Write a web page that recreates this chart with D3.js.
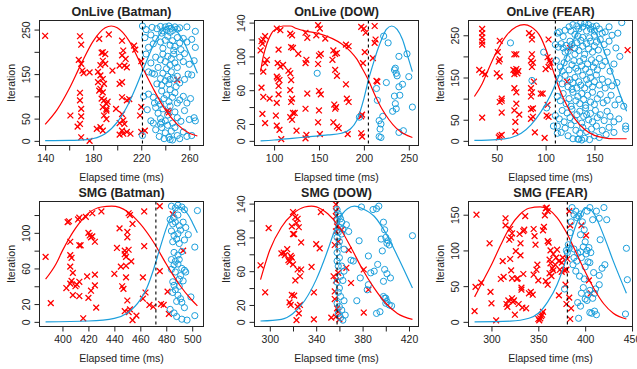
<!DOCTYPE html>
<html><head><meta charset="utf-8">
<script src="https://cdn.jsdelivr.net/npm/d3@7"></script>
<style>body{margin:0;background:#fff}svg{display:block}text{font-family:"Liberation Sans",Arial,Helvetica,sans-serif;fill:#222}</style>
</head><body>
<svg id="c" width="637" height="369"></svg>
<script>
// ---------------- DATA ----------------
const titles = ["OnLive (Batman)", "OnLive (DOW)", "OnLive (FEAR)", "SMG (Batman)", "SMG (DOW)", "SMG (FEAR)"];
const xLabel = "Elapsed time (ms)";
const yLabel = "Iteration";
const xLimits = [[135.3, 271.8], [78.2, 260.8], [21, 189], [382.3, 508.7], [286.8, 428.2], [275.5, 450.5]];
const yLimits = [[-10.4, 270.4], [-5.5, 142.5], [-11, 285], [-5.2, 135.2], [-5.5, 142.5], [-6.5, 168.5]];
const xTicks = [[140,160,180,200,220,240,260],[100,150,200,250],[50,100,150],[400,420,440,460,480,500],[300,320,340,360,380,400,420],[300,350,400,450]];
const xTickLabels = [["140","","180","","220","","260"],["100","150","200","250"],["50","100","150"],["400","420","440","460","480","500"],["300","","340","","380","","420"],["300","350","400","450"]];
const yTicks = [[0,50,100,150,200,250],[0,20,40,60,80,100,120,140],[0,50,100,150,200,250],[0,20,40,60,80,100,120],[0,20,40,60,80,100,120,140],[0,50,100,150]];
const yTickLabels = [["0","50","","150","","250"],["0","20","","60","","100","","140"],["0","50","","150","","250"],["0","20","","60","","100",""],["0","20","","60","","100","","140"],["0","50","100","150"]];
const thresholds = [221, 205, 110, 472, 358, 381];

// density curves
const redCurves = [
  [[140,37],[150,70],[160,117],[170,173],[180,224],[190,254],[195,258],[200,254],[210,224],[220,170],[230,117],[240,70],[250,37],[260,17],[266.7,11]],
  [[85,82],[88,100],[92,115],[97,127],[103,133],[110,136],[118,136],[125,133],[135,130],[150,127],[165,121],[175,115],[185,106],[192,97],[198,86],[205,72],[212,55],[220,38],[228,25],[236,15],[245,8],[254,4]],
  [[27,105],[35,135],[40,162],[50,212],[60,250],[70,270],[78,275],[85,270],[95,245],[100,218],[105,185],[110,150],[115,118],[120,92],[130,52],[140,27],[150,13],[160,7],[170,5],[183,5]],
  [[387,48],[395,65],[400,80],[410,105],[420,122],[430,129],[438,130],[450,124],[460,110],[470,90],[480,65],[490,42],[500,24],[504,18]],
  [[292,50],[300,85],[310,112],[320,128],[330,136],[336,137],[345,133],[350,128],[360,112],[370,88],[380,62],[390,40],[400,22],[410,10],[423,3]],
  [[282,35],[290,55],[300,80],[310,108],[320,133],[330,150],[340,159],[352,161],[360,158],[370,146],[380,125],[390,98],[400,70],[410,45],[420,25],[430,12],[444,4]]
];
const blueCurves = [
  [[140,0.5],[160,1],[175,3],[190,16],[200,42],[210,87],[215,117],[220,150],[225,183],[230,214],[235,238],[240,254],[244,259],[250,245],[255,225],[260,195],[266.7,152]],
  [[85,0],[100,1],[120,3],[140,5],[160,7],[175,9],[185,14],[192,24],[200,50],[205,72],[210,90],[215,107],[220,121],[225,132],[231,136],[237,132],[243,120],[248,103],[254,82]],
  [[27,1],[50,3],[65,8],[75,18],[85,38],[95,68],[105,108],[112,145],[120,190],[127,230],[133,260],[140,275],[147,268],[155,240],[162,200],[170,150],[177,105],[183,70]],
  [[387,0],[420,1],[440,4],[450,10],[460,25],[465,38],[470,58],[475,82],[480,105],[485,122],[489,129],[493,127],[497,120],[500,112],[504,100]],
  [[292,1],[310,3],[320,10],[330,25],[340,50],[350,85],[355,105],[360,122],[367,134],[373,137],[380,134],[390,125],[400,105],[410,78],[423,40]],
  [[282,0],[320,1],[340,5],[350,12],[360,28],[370,52],[380,90],[385,115],[390,135],[395,150],[400,160],[405,158],[410,150],[420,120],[430,85],[444,40]]
];

// scatter points: red crosses, blue circles
const onliveBatmanRed = [[140,236],[169,235],[170,216],[168,182],[170,173],[171,158],[172,152],[177,154],[169,108],[169,91],[170,72],[170,55],[169,38],[167,32],[161,57],[170,8],[177,0],[185,229],[193,239],[188,199],[190,195],[187,198],[188,180],[190,173],[186,170],[186,147],[188,139],[184,132],[189,128],[186,117],[185,113],[188,109],[189,91],[191,83],[188,76],[191,68],[189,57],[191,49],[186,31],[188,23],[196,158],[204,225],[205,203],[204,192],[207,184],[202,169],[208,165],[206,169],[204,132],[202,128],[199,72],[204,98],[210,94],[208,91],[205,46],[206,38],[204,23],[205,16],[208,20],[211,16],[214,214],[220,179],[220,76],[219,57],[220,20],[223,23],[202,14],[250,137],[242,68],[243,64],[191,72],[183,27],[187,95],[192,88],[204,60],[202,40],[215,205],[184,155]];
const onliveBatmanBlue = [[221,258],[224,250],[229,255],[233,252],[236,257],[238,247],[240,256],[241,250],[243,258],[245,253],[246,248],[248,256],[250,251],[252,254],[258,256],[265,246],[244,244],[237,242],[228,238],
  [223,232],[232,230],[236,222],[240,226],[242,235],[244,215],[246,225],[248,212],[250,232],[252,220],[255,230],[258,222],[262,228],[238,208],[247,203],[253,205],[230,218],[226,210],[265,210],
  [224,195],[232,188],[236,182],[238,195],[240,178],[242,190],[244,170],[245,185],[247,195],[248,175],[250,165],[252,188],[255,178],[260,172],[264,180],[228,175],[234,165],[241,162],[256,196],
  [226,155],[229,152],[231,150],[236,140],[238,152],[240,135],[242,145],[243,128],[245,155],[247,140],[249,122],[250,145],[252,130],[256,138],[259,150],[262,148],[233,128],[237,125],[244,138],
  [222,100],[226,105],[230,98],[234,90],[237,112],[239,95],[241,103],[243,88],[244,115],[246,98],[248,108],[250,85],[252,92],[255,100],[258,85],[261,95],[236,82],[231,85],
  [225,70],[228,45],[230,40],[234,62],[236,50],[238,72],[240,45],[242,58],[244,78],[246,40],[248,65],[250,52],[253,44],[256,68],[260,48],[265,45],[264,52],[232,75],[237,42],
  [221,12],[232,25],[235,10],[237,30],[239,5],[240,18],[242,35],[243,8],[245,22],[246,2],[248,30],[250,12],[252,5],[255,20],[258,10],[262,12],[236,38],[244,3]];

const onliveDowRed = [[86,118],[87,115],[88,120],[85,107],[90,124],[88,82],[90,92],[92,96],[86,63],[88,52],[87,32],[90,21],[95,50],
  [103,133],[107,131],[105,108],[104,92],[107,88],[110,90],[103,76],[104,74],[106,72],[105,65],[105,55],[103,45],[103,18],[106,13],[108,2],[102,30],
  [118,127],[120,125],[121,110],[119,111],[116,83],[118,80],[119,72],[118,60],[120,50],[119,46],[121,33],[118,28],[120,25],[123,33],[125,12],[127,103],
  [135,128],[137,122],[136,96],[135,92],[137,56],[135,38],[136,7],[135,3],
  [149,137],[151,133],[147,125],[150,101],[152,103],[149,91],[150,59],[152,55],[150,36],[149,22],[151,8],
  [157,121],[166,107],[168,103],[165,96],[170,104],[168,84],[170,77],[167,43],[169,40],[166,22],[170,17],[172,15],[168,38],
  [180,114],[183,112],[180,67],[181,50],[183,46],[182,8],
  [197,135],[200,133],[202,128],[201,105],[199,92],[198,31],[197,29],[197,9],[198,5],
  [212,136],[212,116],[213,120],[210,98],[215,70],[214,71]];
const onliveDowBlue = [[222,124],[227,116],[248,103],[239,100],[235,86],[234,84],[236,80],[237,77],[225,69],[214,62],[215,48],[239,64],[243,67],[250,76],[234,53],[240,54],[235,44],[236,38],[232,35],[217,24],[219,20],[218,14],[221,29],[217,5],[219,4],[239,10],[244,12],[254,40],[195,28],[148,80]];

const onliveFearRed = [[35,265],[35,255],[35,245],[35,235],[35,228],[32,168],[35,162],[38,158],[35,55],
  [53,237],[51,210],[53,193],[52,188],[50,160],[53,152],[55,100],[55,95],[53,92],[55,67],[53,12],[52,8],[55,14],
  [68,205],[70,205],[67,168],[69,165],[70,170],[72,165],[68,158],[71,160],[68,125],[70,115],[70,88],[68,72],[73,62],[69,45],[69,22],
  [83,255],[86,250],[86,240],[86,205],[85,190],[87,185],[86,175],[88,140],[85,125],[86,115],[85,105],[87,77],[85,75],[87,57],[85,52],[89,20],
  [95,112],[97,112],[103,240],[102,198],[104,190],[105,185],[103,175],[100,170],[102,85],[101,60],[103,57],[99,7],[125,220],[184,215],[122,140]];
const onliveFearBlue = [[112,255],[114,258],[118,247],[120,262],[124,270],[126,260],[128,275],[130,252],[132,272],[134,265],[136,280],[138,270],[140,278],[142,260],[144,275],[146,265],[148,270],[150,260],[152,272],[155,265],[158,255],[161,258],[168,250],[174,255],[178,280],[133,248],[138,245],[145,244],[150,250],[165,270],
  [110,228],[113,222],[116,230],[118,220],[121,226],[123,212],[125,236],[127,228],[130,220],[132,232],[134,214],[136,238],[138,224],[140,205],[142,230],[144,218],[146,236],[148,210],[150,225],[152,234],[154,215],[156,240],[160,228],[163,210],[165,236],[172,220],[176,200],[130,205],[120,210],
  [111,190],[115,175],[119,185],[122,195],[124,168],[127,180],[129,190],[131,172],[133,165],[135,188],[137,178],[139,195],[141,170],[143,182],[145,162],[147,192],[149,175],[151,185],[153,168],[155,195],[158,178],[161,188],[166,165],[170,182],[117,165],
  [114,148],[117,135],[120,155],[123,128],[125,145],[128,138],[130,150],[132,125],[134,140],[136,132],[138,155],[140,125],[142,145],[144,135],[146,150],[148,128],[150,140],[152,156],[155,132],[158,146],[161,125],[164,140],[168,130],[173,138],[127,122],
  [112,105],[115,95],[118,112],[121,88],[124,100],[126,82],[128,115],[131,95],[133,105],[135,88],[137,112],[139,98],[141,84],[143,108],[146,92],[148,115],[150,86],[153,100],[156,110],[159,90],[163,96],[167,108],[171,85],[175,98],[180,82],
  [110,60],[114,52],[117,72],[119,45],[122,66],[125,55],[127,75],[130,48],[132,62],[135,70],[137,42],[139,58],[141,78],[144,50],[146,65],[148,45],[151,72],[153,55],[156,62],[160,48],[163,70],[166,58],[170,45],[175,52],[142,62],
  [112,35],[116,20],[120,30],[123,12],[126,38],[128,5],[131,25],[133,4],[135,18],[138,32],[140,6],[142,22],[145,3],[147,28],[150,12],[152,35],[155,8],[158,25],[162,15],[165,32],[170,20],[182,28],[182,35],[137,2],[134,4],
  [64,232],[98,210],[86,143],[101,78],[108,35],[112,18]];

const smgBatmanRed = [[387,73],[391,21],[403,38],[404,112],[405,113],[406,90],[406,75],[407,72],[406,62],[407,46],[408,55],[406,43],[408,30],[410,40],[411,42],[412,115],[413,117],[413,86],[414,86],[413,45],[413,29],[416,4],[418,118],[419,51],[420,27],[420,100],[421,97],[422,95],[423,96],[423,122],[422,35],[425,90],[425,53],[425,41],[426,16],[430,124],[440,54],[442,83],[444,105],[445,62],[446,40],[447,37],[448,76],[448,80],[449,73],[449,63],[449,50],[450,101],[450,95],[451,81],[450,24],[448,12],[451,11],[452,14],[453,68],[454,110],[452,120],[451,122],[454,2],[457,7],[462,50],[462,26],[463,85],[463,124],[464,33],[467,19],[470,17],[475,57],[476,20],[478,19],[475,130],[481,34],[482,9],[493,80],[485,121]];
const smgBatmanBlue = [[484,130],[487,128],[489,131],[492,129],[494,126],[504,125],[486,117],[489,120],[483,115],[485,110],[487,112],[490,108],[493,112],[495,106],[484,102],[486,97],[489,99],[491,103],[497,98],[485,90],[488,93],[490,88],[494,92],[486,78],[489,75],[492,79],[484,70],[487,68],[490,70],[486,64],[489,65],[492,60],[494,58],[491,52],[490,48],[493,46],[502,84],[485,45],[486,41],[487,36],[489,30],[491,26],[488,23],[492,22],[485,33],[499,28],[483,14],[486,10],[488,6],[492,3],[494,16],[496,2],[502,7],[487,56],[484,59],[495,56],[490,40]];

const smgDowRed = [[292,67],[296,35],[299,111],[310,81],[312,82],[313,79],[315,86],[316,73],[317,71],[318,78],[319,76],[320,68],[317,23],[318,20],[319,32],[321,31],[322,49],[320,130],[322,124],[319,113],[320,104],[321,104],[323,117],[324,122],[325,112],[327,94],[324,62],[327,62],[326,54],[324,18],[325,10],[323,2],[326,20],[336,65],[338,35],[340,92],[343,87],[344,130],[338,3],[353,5],[355,54],[356,27],[356,36],[357,139],[357,131],[357,125],[358,113],[357,107],[359,95],[356,91],[357,49],[358,16],[359,12],[357,6],[360,3],[366,64],[368,85],[370,46],[381,62],[385,38],[381,11],[359,58],[362,109]];
const smgDowBlue = [[358,133],[359,128],[360,125],[358,120],[361,122],[362,118],[360,112],[359,106],[362,104],[363,110],[358,100],[360,95],[359,90],[358,82],[360,76],[358,72],[359,66],[361,54],[358,47],[360,40],[359,35],[361,30],[358,22],[360,18],[362,14],[359,10],[361,5],[363,2],[364,60],[363,49],[365,8],[364,25],[362,66],[364,86],[366,115],
  [370,73],[372,72],[368,107],[377,96],[379,136],[389,133],[392,134],[394,137],[398,118],[399,109],[396,98],[400,100],[402,96],[403,91],[401,93],[397,84],[399,62],[401,57],[404,52],[398,48],[393,68],[385,78],[385,44],[384,38],[375,25],[378,52],[390,60],[398,30],[400,28],[401,24],[400,22],[403,20],[405,19],[395,12],[392,10],[399,28],[423,102],[387,58]];

const smgFearRed = [[284,150],[283,49],[282,15],[289,55],[298,110],[299,42],[300,26],[305,2],[310,60],[312,85],[313,63],[315,145],[315,135],[316,25],[317,21],[318,30],[319,115],[320,88],[320,130],[321,118],[322,124],[321,72],[322,61],[322,33],[323,28],[324,30],[325,10],[326,99],[327,60],[328,61],[329,25],[330,123],[331,110],[331,93],[332,48],[332,45],[333,20],[334,127],[335,129],[334,67],[336,148],[337,19],[340,40],[342,42],[344,38],[345,66],[345,130],[346,120],[347,108],[348,73],[349,80],[350,58],[350,4],[351,2],[352,5],[353,8],[354,10],[355,14],[355,128],[356,133],[357,149],[358,159],[359,160],[360,155],[360,113],[361,111],[358,57],[360,52],[362,87],[362,68],[363,82],[364,64],[365,75],[366,72],[366,95],[368,80],[369,90],[370,101],[372,85],[372,37],[373,73],[375,83],[375,70],[376,90],[378,72],[379,52],[380,73],[383,155],[384,4],[385,19],[381,88],[383,34],[380,25],[396,135],[401,121],[404,58],[406,40],[384,135],[363,100]];
const smgFearBlue = [[378,46],[381,97],[383,103],[380,100],[382,108],[384,125],[385,140],[386,160],[388,150],[390,155],[391,146],[393,148],[395,151],[397,140],[399,129],[395,122],[398,105],[400,112],[402,100],[401,95],[396,90],[403,84],[405,83],[400,77],[388,90],[392,96],[395,98],[394,64],[390,71],[392,27],[395,22],[393,5],[396,40],[398,48],[400,32],[402,30],[403,38],[405,13],[407,12],[410,15],[412,10],[408,33],[410,40],[405,44],[411,46],[415,52],[409,69],[415,65],[418,75],[421,80],[420,160],[423,143],[415,145],[412,155],[405,160],[408,143],[402,155],[416,115],[444,103],[445,59],[443,11],[388,102],[387,80],[391,85],[399,60],[404,104],[406,97]];

const redPoints = [onliveBatmanRed, onliveDowRed, onliveFearRed, smgBatmanRed, smgDowRed, smgFearRed];
const bluePoints = [onliveBatmanBlue, onliveDowBlue, onliveFearBlue, smgBatmanBlue, smgDowBlue, smgFearBlue];

// ---------------- DRAW ----------------
const RED = "#ff0000", BLUE = "#1c9fdc";
const svg = d3.select("#c");
const boxLefts = [39.5, 254.5, 468.5], boxW = 164;
const boxTops = [20.5, 201.5], boxH = 125;

titles.forEach((title, i) => {
  const col = i % 3, row = Math.floor(i / 3);
  const L = boxLefts[col], T = boxTops[row];
  const x = d3.scaleLinear().domain(xLimits[i]).range([L, L + boxW]);
  const y = d3.scaleLinear().domain(yLimits[i]).range([T + boxH, T]);
  const g = svg.append("g");
  const clipId = "clip" + i;
  svg.append("clipPath").attr("id", clipId).append("rect").attr("x", L).attr("y", T).attr("width", boxW).attr("height", boxH);
  const plot = g.append("g").attr("clip-path", `url(#${clipId})`);

  // red crosses
  const s = 2.9;
  plot.append("g").selectAll("path").data(redPoints[i]).join("path")
    .attr("d", d => { const cx = x(d[0]), cy = y(d[1]); return `M${cx-s},${cy-s}L${cx+s},${cy+s}M${cx-s},${cy+s}L${cx+s},${cy-s}`; })
    .attr("stroke", RED).attr("stroke-width", 1.3).attr("fill", "none");
  // blue circles
  plot.append("g").selectAll("circle").data(bluePoints[i]).join("circle")
    .attr("cx", d => x(d[0])).attr("cy", d => y(d[1])).attr("r", 3.1)
    .attr("fill", "none").attr("stroke", BLUE).attr("stroke-width", 1);

  const line = d3.line().x(d => x(d[0])).y(d => y(d[1])).curve(d3.curveMonotoneX);
  plot.append("path").attr("d", line(redCurves[i])).attr("fill", "none").attr("stroke", RED).attr("stroke-width", 1.2);
  plot.append("path").attr("d", line(blueCurves[i])).attr("fill", "none").attr("stroke", BLUE).attr("stroke-width", 1.2);

  // threshold
  g.append("line").attr("x1", x(thresholds[i])).attr("x2", x(thresholds[i])).attr("y1", T).attr("y2", T + boxH)
    .attr("stroke", "#000").attr("stroke-width", 1.1).attr("stroke-dasharray", "3,3");

  // box
  g.append("rect").attr("x", L).attr("y", T).attr("width", boxW).attr("height", boxH)
    .attr("fill", "none").attr("stroke", "#222").attr("stroke-width", 1);

  // x axis
  const xa = d3.axisBottom(x).tickValues(xTicks[i]).tickFormat((d, k) => xTickLabels[i][k]).tickSize(5).tickPadding(4);
  const xg = g.append("g").attr("transform", `translate(0,${T + boxH})`).call(xa);
  xg.select(".domain").remove();
  xg.selectAll("line").attr("stroke", "#222");
  xg.selectAll("text").attr("font-size", "10.5px").attr("fill", "#222").attr("font-family", "Liberation Sans, Arial, sans-serif");

  // y axis
  const ya = d3.axisLeft(y).tickValues(yTicks[i]).tickFormat((d, k) => yTickLabels[i][k]).tickSize(5).tickPadding(0);
  const yg = g.append("g").attr("transform", `translate(${L},0)`).call(ya);
  yg.select(".domain").remove();
  yg.selectAll("line").attr("stroke", "#222");
  yg.selectAll("text").attr("font-size", "10.5px").attr("fill", "#222").attr("font-family", "Liberation Sans, Arial, sans-serif")
    .attr("x", null).attr("dy", null)
    .attr("text-anchor", "middle")
    .attr("transform", "translate(-10,0) rotate(-90)");

  // titles
  g.append("text").attr("x", L + boxW / 2).attr("y", T - 4.5).attr("text-anchor", "middle")
    .attr("font-size", "12.5px").attr("font-weight", "bold").text(title);
  g.append("text").attr("x", L + boxW / 2).attr("y", T + boxH + 35.5).attr("text-anchor", "middle")
    .attr("font-size", "10.5px").text(xLabel);
  g.append("text").attr("transform", `translate(${L - 24.5},${T + boxH / 2}) rotate(-90)`).attr("text-anchor", "middle")
    .attr("font-size", "10.5px").text(yLabel);
});
</script>
</body></html>
